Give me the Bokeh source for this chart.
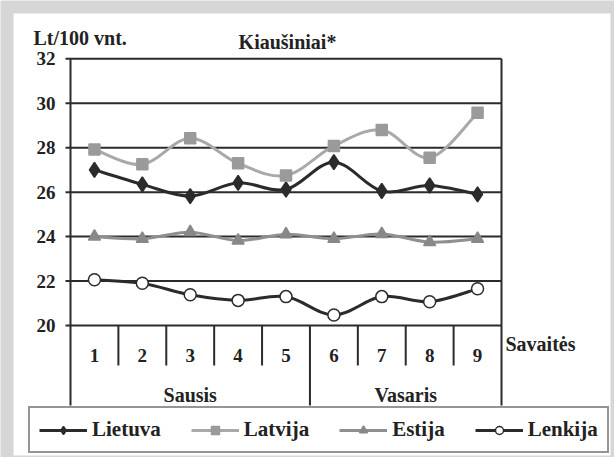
from bokeh.plotting import figure
from bokeh.models import Range1d, Legend, LegendItem, ColumnDataSource
from bokeh.core.properties import value
from bokeh.embed import file_html
from bokeh.resources import INLINE

# ---- data ----
weeks = [1, 2, 3, 4, 5, 6, 7, 8, 9]
week_labels = ["1", "2", "3", "4", "5", "6", "7", "8", "9"]
months = ["Sausis", "Sausis", "Sausis", "Sausis", "Sausis",
          "Vasaris", "Vasaris", "Vasaris", "Vasaris"]
lietuva = [27.0, 26.35, 25.82, 26.42, 26.12, 27.35, 26.05, 26.3, 25.9]
latvija = [27.92, 27.25, 28.43, 27.3, 26.75, 28.08, 28.8, 27.55, 29.57]
estija = [24.0, 23.9, 24.2, 23.82, 24.1, 23.9, 24.12, 23.75, 23.9]
lenkija = [22.06, 21.9, 21.38, 21.13, 21.3, 20.47, 21.3, 21.07, 21.65]
y_ticks = [20, 22, 24, 26, 28, 30, 32]
y_tick_labels = [str(t) for t in y_ticks]

FONT = "'Liberation Serif', 'Times New Roman', serif"
DARK = "#2b2b2b"
TXT = "#222222"
GRAY = "#d6d6d6"

W, H = 614, 457
# layout: page pixels -> data coordinates (plot box 0.5..9.5 x 20..32)
X0_PX, PX_PER_X = 70.0, (501.0 - 70.0) / 9
Y20_PX, PX_PER_Y = 325.0, (325.0 - 58.3) / 12


def X(px):
    return 0.5 + (px - X0_PX) / PX_PER_X


def Y(py):
    return 20 + (Y20_PX - py) / PX_PER_Y


p = figure(width=W, height=H, output_backend="svg", toolbar_location=None,
           x_range=Range1d(X(0), X(W)), y_range=Range1d(Y(H), Y(0)),
           x_axis_location=None, y_axis_location=None,
           min_border=0, min_border_left=0, min_border_right=0,
           min_border_top=0, min_border_bottom=0)
p.outline_line_color = None
p.xgrid.visible = False
p.ygrid.visible = False
p.background_fill_color = GRAY
p.border_fill_color = GRAY

# white panel
p.quad(left=X(13), right=X(610), bottom=Y(455), top=Y(13),
       fill_color="white", line_color=None)

# horizontal grid lines with tick marks
p.segment(x0=[X(65)] * len(y_ticks), x1=[weeks[-1] + 0.5] * len(y_ticks),
          y0=y_ticks, y1=y_ticks, line_color=DARK, line_width=2)
# y axis tick labels
p.text(x=[X(55)] * len(y_ticks), y=y_ticks, text=y_tick_labels, text_align="right",
       text_baseline="middle", text_font=value(FONT), text_font_style="bold",
       text_font_size="19px", text_color=TXT)

# vertical frame lines and separators
bottom_all = Y(405)
sep_x = [weeks[0] - 0.5]
sep_bottom = [bottom_all]
for i in range(len(weeks) - 1):
    sep_x.append(weeks[i] + 0.5)
    sep_bottom.append(bottom_all if months[i] != months[i + 1] else Y(365))
sep_x.append(weeks[-1] + 0.5)
sep_bottom.append(bottom_all)
sep_top = [max(y_ticks) if (x == weeks[0] - 0.5 or x == weeks[-1] + 0.5) else min(y_ticks)
           for x in sep_x]
p.segment(x0=sep_x, y0=sep_top, x1=sep_x, y1=sep_bottom,
          line_color=DARK, line_width=2)

# week labels
p.text(x=weeks, y=[Y(355)] * len(weeks), text=week_labels, text_align="center",
       text_baseline="middle", text_font=value(FONT), text_font_style="bold",
       text_font_size="19px", text_color=TXT)

# month labels
month_names, month_pos = [], []
for m in dict.fromkeys(months):
    idx = [w for w, mm in zip(weeks, months) if mm == m]
    month_names.append(m)
    month_pos.append((min(idx) + max(idx)) / 2)
p.text(x=month_pos, y=[Y(394)] * len(month_pos), text=month_names, text_align="center",
       text_baseline="middle", text_font=value(FONT), text_font_style="bold",
       text_font_size="20px", text_color=TXT)

# other texts
p.text(x=[X(505)], y=[Y(343)], text=["Savaitės"], text_align="left",
       text_baseline="middle", text_font=value(FONT), text_font_style="bold",
       text_font_size="20px", text_color=TXT)
p.text(x=[X(33)], y=[Y(37)], text=["Lt/100 vnt."], text_align="left",
       text_baseline="middle", text_font=value(FONT), text_font_style="bold",
       text_font_size="20px", text_color=TXT)
p.text(x=[X(287)], y=[Y(41)], text=["Kiaušiniai*"], text_align="center",
       text_baseline="middle", text_font=value(FONT), text_font_style="bold",
       text_font_size="20px", text_color=TXT)


def smooth(xs, ys):
    n = len(xs)
    d = dict(x0=[], y0=[], x1=[], y1=[], cx0=[], cy0=[], cx1=[], cy1=[])
    for i in range(n - 1):
        xm, ym = (xs[i - 1], ys[i - 1]) if i > 0 else (xs[i], ys[i])
        xp, yp = (xs[i + 2], ys[i + 2]) if i + 2 < n else (xs[i + 1], ys[i + 1])
        d["x0"].append(xs[i]); d["y0"].append(ys[i])
        d["x1"].append(xs[i + 1]); d["y1"].append(ys[i + 1])
        d["cx0"].append(xs[i] + (xs[i + 1] - xm) / 6)
        d["cy0"].append(ys[i] + (ys[i + 1] - ym) / 6)
        d["cx1"].append(xs[i + 1] - (xp - xs[i]) / 6)
        d["cy1"].append(ys[i + 1] - (yp - ys[i]) / 6)
    return ColumnDataSource(d)


series = [
    ("Lietuva", lietuva, DARK, "diamond", DARK, DARK, 15),
    ("Latvija", latvija, "#a9a9a9", "square", "#9a9a9a", "#9a9a9a", 11),
    ("Estija", estija, "#8f8f8f", "triangle", "#888888", "#888888", 12),
    ("Lenkija", lenkija, DARK, "circle", "white", DARK, 12),
]
items = []
for name, vals, lc, marker, fc, mlc, size in series:
    b = p.bezier(x0="x0", y0="y0", x1="x1", y1="y1", cx0="cx0", cy0="cy0",
                 cx1="cx1", cy1="cy1", source=smooth(weeks, vals),
                 line_color=lc, line_width=3)
    s = p.scatter(x=weeks, y=vals, marker=marker, size=size, fill_color=fc,
                  line_color=mlc, line_width=1.5)
    items.append(LegendItem(label=name, renderers=[b, s]))

# legend box: left edge at page x=28, bottom edge at page y=453
legend = Legend(items=items, orientation="horizontal", location=(28, H - 453),
                glyph_width=48, glyph_height=20, label_height=20, label_standoff=5,
                spacing=30, padding=9, margin=0,
                border_line_color=DARK, border_line_width=2,
                background_fill_color="white", background_fill_alpha=1,
                label_text_font=FONT, label_text_font_style="bold",
                label_text_font_size="21px", label_text_color=TXT)
p.add_layout(legend, "center")

open("out.html", "w").write(file_html(p, INLINE))
